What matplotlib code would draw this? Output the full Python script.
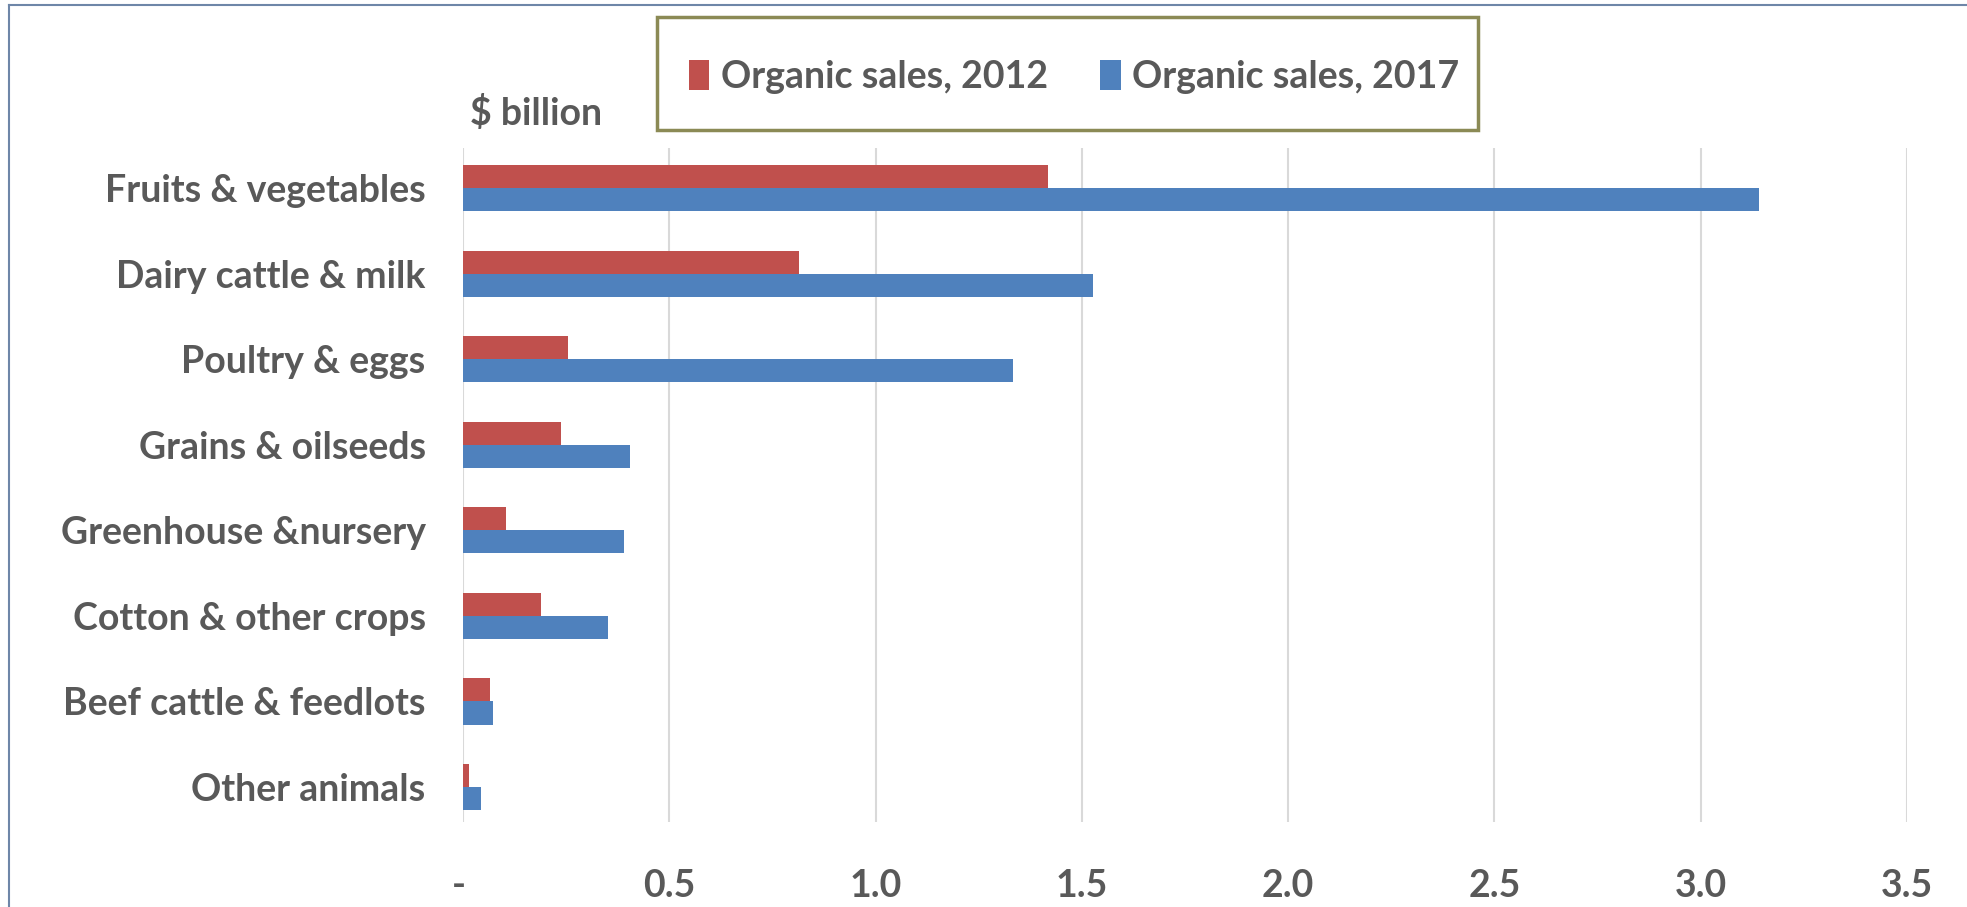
import numpy as np
import matplotlib.pyplot as plt
from matplotlib.patches import Rectangle

# data ($ billion)
categories = ["Fruits & vegetables", "Dairy cattle & milk", "Poultry & eggs",
              "Grains & oilseeds", "Greenhouse &nursery", "Cotton & other crops",
              "Beef cattle & feedlots", "Other animals"]
sales_2012 = [1.417, 0.815, 0.255, 0.237, 0.103, 0.189, 0.064, 0.015]
sales_2017 = [3.141, 1.526, 1.332, 0.404, 0.389, 0.350, 0.073, 0.043]
xticks = [0, 0.5, 1.0, 1.5, 2.0, 2.5, 3.0, 3.5]
xtick_labels = ["- ", "0.5", "1.0", "1.5", "2.0", "2.5", "3.0", "3.5"]

plt.rcParams['font.family'] = ['Lato', 'DejaVu Sans']
txt_color = "#595959"
red = "#C0504D"
blue = "#4F81BD"
fs = 27

fig = plt.figure(figsize=(19.67, 9.07), dpi=100)
ax = fig.add_axes([0.2355, 0.0937, 0.734, 0.743])

y = np.arange(len(categories))
h = 0.27
ax.barh(y - h / 2, sales_2012, height=h, color=red, label="Organic sales, 2012", zorder=3)
ax.barh(y + h / 2, sales_2017, height=h, color=blue, label="Organic sales, 2017", zorder=3)

ax.set_xlim(0, 3.5)
ax.set_ylim(7.41, -0.47)
ax.set_yticks(y)
ax.set_yticklabels(categories, fontsize=fs, fontweight="bold", color=txt_color)
ax.set_xticks(xticks)
ax.set_xticklabels(xtick_labels, fontsize=fs, fontweight="bold", color=txt_color)
ax.tick_params(axis="both", length=0)
ax.tick_params(axis="y", pad=27)
ax.tick_params(axis="x", pad=34)
ax.grid(axis="x", color="#D9D9D9", linewidth=1.5, zorder=0)
for s in ax.spines.values():
    s.set_visible(False)

ax.text(0.005, 1.052, "$ billion", transform=ax.transAxes, fontsize=fs,
        fontweight="bold", color=txt_color, va="center", ha="left")

# legend with boxed frame
leg = fig.legend(loc="center", bbox_to_anchor=(0.546, 0.915), ncol=2,
                 fontsize=fs, frameon=False, handlelength=0.55, handleheight=0.85,
                 handletextpad=0.3, columnspacing=1.4)
for t in leg.get_texts():
    t.set_color(txt_color)
    t.set_fontweight("bold")
fig.add_artist(Rectangle((657 / 1967, 1 - 130 / 907), (1478 - 657) / 1967, (130 - 17) / 907,
                         transform=fig.transFigure, fill=False, edgecolor="#8B8A55", linewidth=2.5))

# outer chart border (left and top)
fig.add_artist(plt.Line2D([9 / 1967, 9 / 1967], [0, 1 - 5 / 907], transform=fig.transFigure,
                          color="#6E86A8", linewidth=1.5))
fig.add_artist(plt.Line2D([9 / 1967, 1], [1 - 5 / 907, 1 - 5 / 907], transform=fig.transFigure,
                          color="#6E86A8", linewidth=1.5))

plt.savefig("out.png", dpi=100)
